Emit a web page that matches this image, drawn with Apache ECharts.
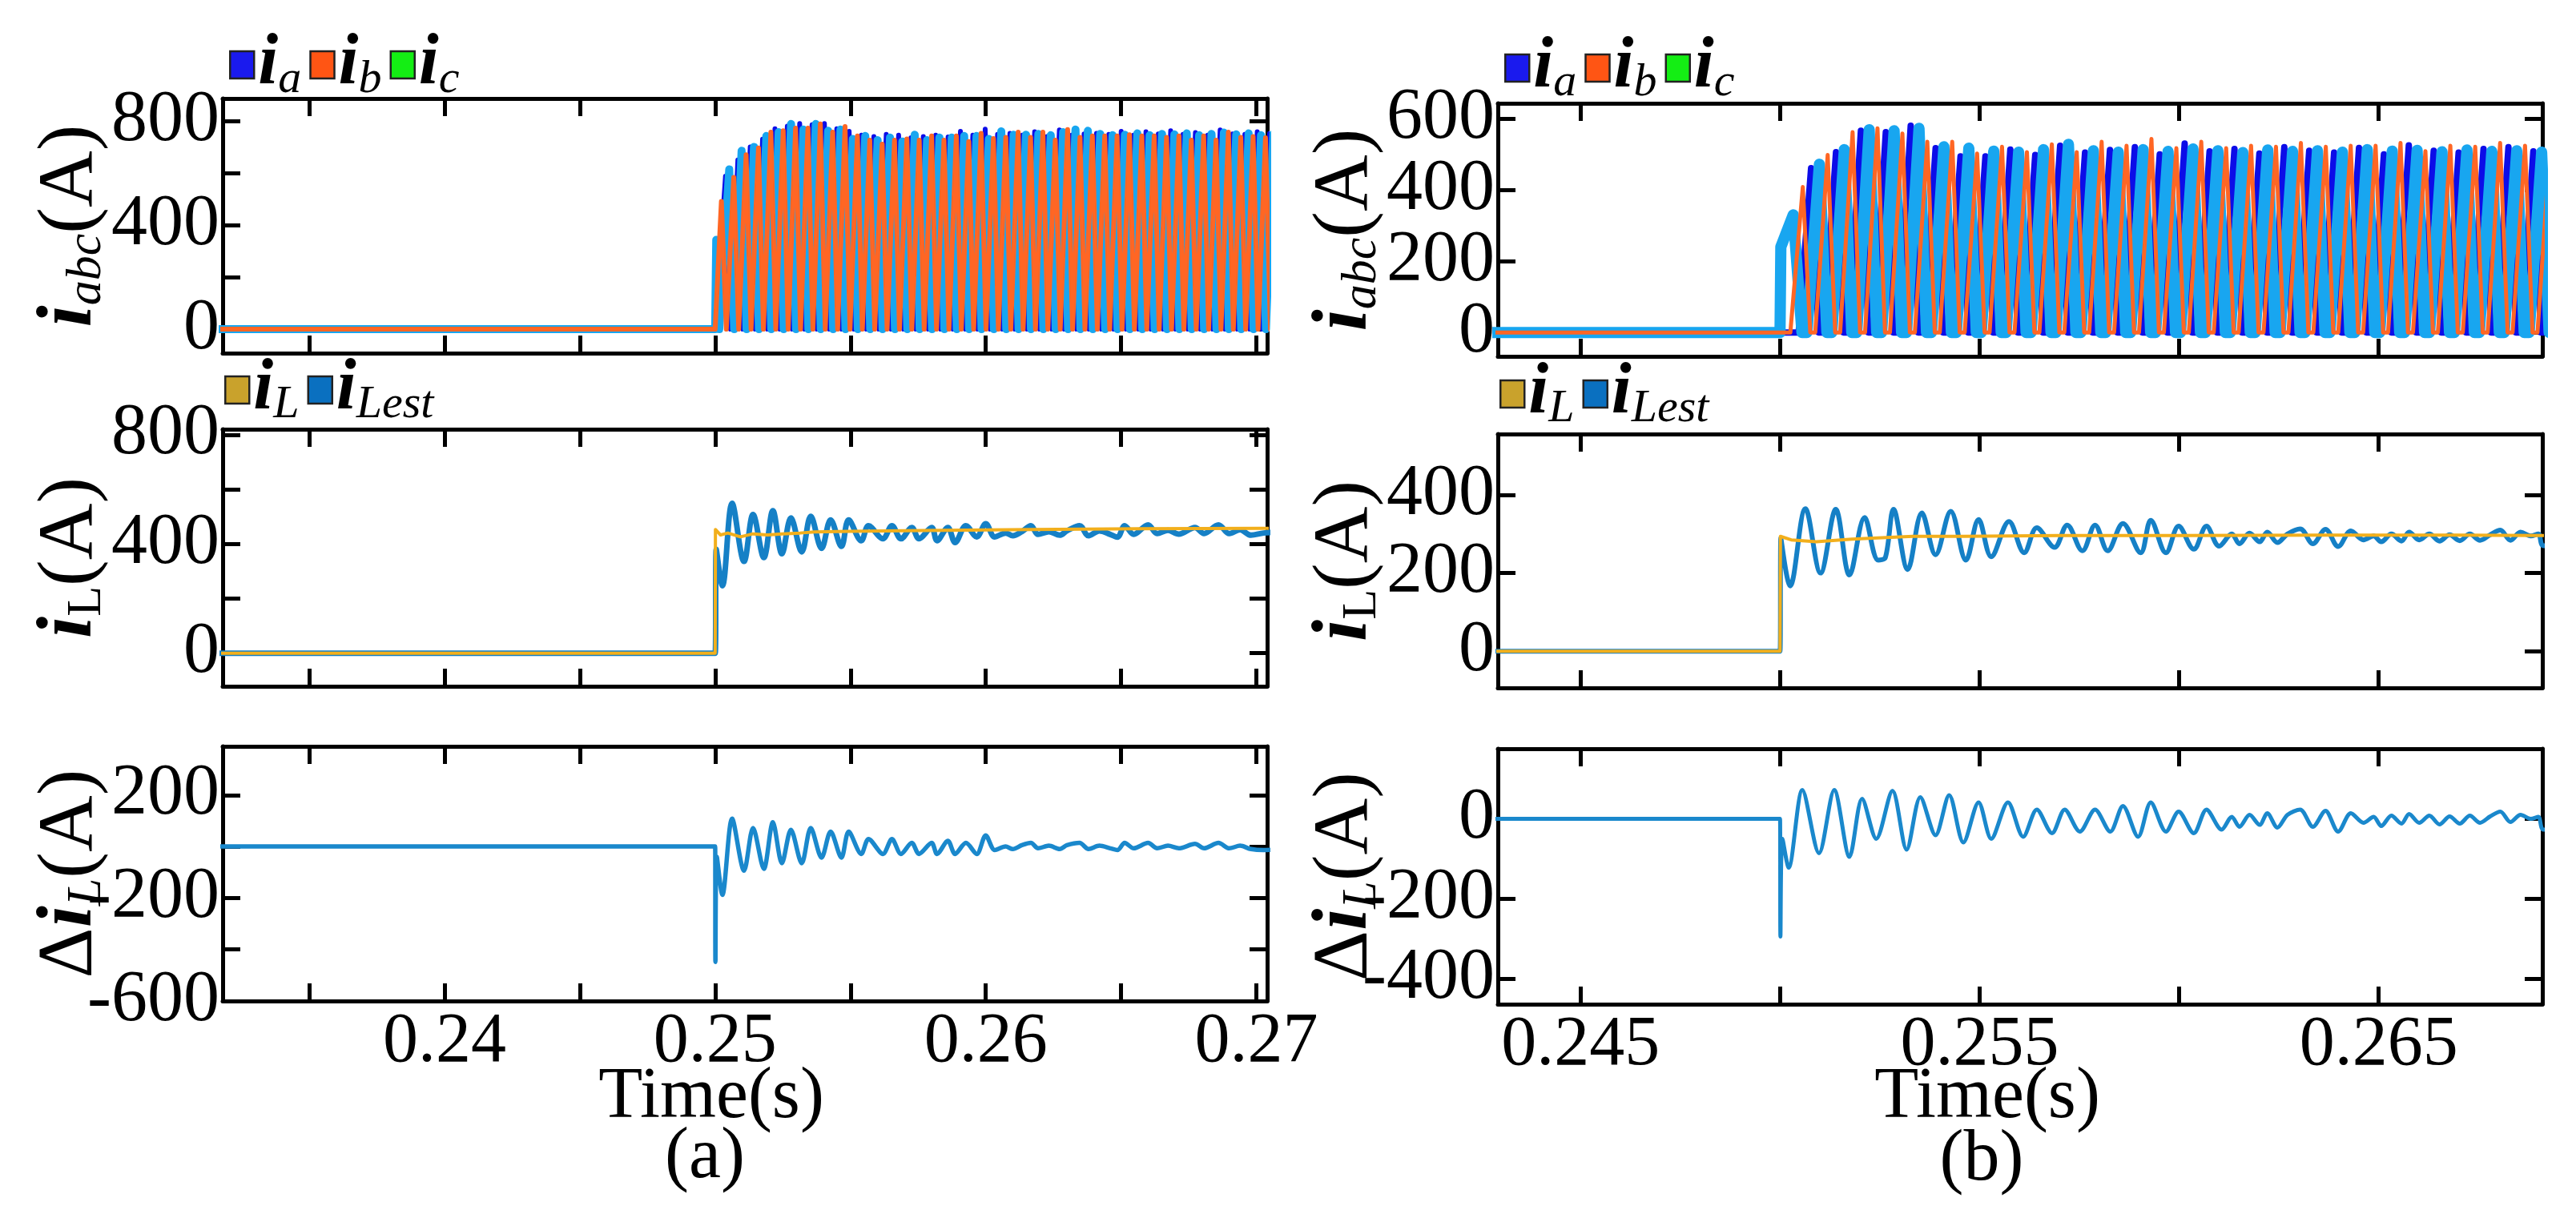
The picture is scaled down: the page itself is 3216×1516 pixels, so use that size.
<!DOCTYPE html>
<html><head><meta charset="utf-8">
<script src="https://cdn.jsdelivr.net/npm/echarts@6/dist/echarts.min.js"></script>
<style>html,body{margin:0;padding:0;background:#fff}#c{width:3216px;height:1516px}</style>
</head><body><div id="c"></div>
<script>
// ---------- DATA (times in microseconds after the 0.25 s load step, currents in A) ----------
// Panel (a) – three-phase currents: peak instants, peak values, zero-touch instants
const aIbPeakT = [230,687,1144,1601,2058,2515,2972,3429,3886,4343,4800,5257,5714,6171,6628,7085,7542,7999,8456,8913,9370,9827,10284,10741,11198,11655,12112,12569,13026,13483,13940,14397,14854,15311,15768,16225,16682,17139,17596,18053,18510,18967,19424,19881,20338];
const aIbPeakV = [491,583,670,696,757,762,772,772,788,757,778,742,726,711,726,731,726,742,726,742,721,752,732,737,757,737,757,726,767,737,742,742,742,747,742,742,737,742,726,742,726,757,737,740,735];
const aIbZeroT = [-20000,0,413,870,1327,1784,2241,2698,3155,3612,4069,4526,4983,5440,5897,6354,6811,7268,7725,8182,8639,9096,9553,10010,10467,10924,11381,11838,12295,12752,13209,13666,14123,14580,15037,15494,15951,16408,16865,17322,17779,18236,18693,19150,19607,20064,20521];

const aIaPeakT = [382,839,1296,1753,2210,2667,3124,3581,4038,4495,4952,5409,5866,6323,6780,7237,7694,8151,8608,9065,9522,9979,10436,10893,11350,11807,12264,12721,13178,13635,14092,14549,15006,15463,15920,16377,16834,17291,17748,18205,18662,19119,19576,20033,20490];
const aIaPeakV = [588,650,700,730,770,780,790,785,790,770,760,745,740,748,745,735,740,745,738,760,745,768,748,752,745,758,740,765,745,750,752,748,760,745,758,750,762,748,755,745,765,750,748,758,752];
const aIaZeroT = [-20000,0,565,1022,1479,1936,2393,2850,3307,3764,4221,4678,5135,5592,6049,6506,6963,7420,7877,8334,8791,9248,9705,10162,10619,11076,11533,11990,12447,12904,13361,13818,14275,14732,15189,15646,16103,16560,17017,17474,17931,18388,18845,19302,19759,20216,20673];

const aIcPeakT = [40,520,977,1434,1891,2348,2805,3262,3719,4176,4633,5090,5547,6004,6461,6918,7375,7832,8289,8746,9203,9660,10117,10574,11031,11488,11945,12402,12859,13316,13773,14230,14687,15144,15601,16058,16515,16972,17429,17886,18343,18800,19257,19714,20171,20628];
const aIcPeakV = [343,614,685,700,742,757,788,767,788,762,767,731,742,726,736,721,747,726,736,736,742,742,731,760,747,747,750,745,757,767,762,750,745,747,752,745,750,748,752,745,750,755,748,752,745,750];
const aIcZeroT = [-20000,0,150,703,1160,1617,2074,2531,2988,3445,3902,4359,4816,5273,5730,6187,6644,7101,7558,8015,8472,8929,9386,9843,10300,10757,11214,11671,12128,12585,13042,13499,13956,14413,14870,15327,15784,16241,16698,17155,17612,18069,18526,18983,19440,19897,20354,20811];

// Panel (a) – measured and estimated inductor current, and their difference
const aIlT = [-20000,0,10,200,467,933,1400,1933,2467,3133,3667,5000,7667,11667,15667,20267,21000];
const aIlV = [0,0,453,433,440,426,437,433,437,440,444,446,449,453,456,457,457];
const aIestT = [-20000,0,40,267,627,1067,1400,1800,2133,2467,2800,3200,3533,3933,4267,4667,4933,5400,5667,6200,6533,6867,7267,7533,8000,8200,8600,8867,9267,9667,10000,10333,10733,11000,11333,11667,11933,12333,12733,13000,13467,13800,14200,14600,14867,15133,15467,16000,16333,16733,17133,17733,18067,18600,19000,19400,19800,20267,21000];
const aIestV = [0,0,380,247,549,336,508,350,522,364,495,371,501,384,488,391,488,412,467,419,467,419,460,419,460,412,460,405,467,426,474,426,440,430,445,467,435,445,432,448,467,430,448,435,425,467,435,470,438,450,436,460,438,470,438,452,432,440,445];
const aDT = [-20000,0,10,60,267,627,1067,1400,1800,2133,2467,2800,3200,3533,3933,4267,4667,4933,5400,5667,6200,6533,6867,7267,7533,8000,8200,8600,8867,9267,9667,10000,10333,10733,11000,11333,11667,11933,12333,12733,13000,13467,13800,14200,14600,14867,15133,15467,16000,16333,16733,17133,17733,18067,18600,19000,19400,19800,20267,21000];
const aDV = [0,0,-448,-40,-188,108,-94,72,-87,94,-65,65,-65,72,-43,58,-43,58,-29,29,-29,29,-29,14,-29,14,-29,22,-29,14,-29,43,-14,0,-10,5,14,-7,3,-10,5,14,-10,3,-7,-14,14,-7,14,-7,3,-7,10,-7,14,-7,3,-10,-14,-10];

// Panel (b) – three-phase currents
const bIbPeakT = [570,1194,1818,2442,3066,3690,4314,4938,5562,6186,6810,7434,8058,8682,9306,9930,10554,11178,11802,12426,13050,13674,14298,14922,15546,16170,16794,17418,18042,18666,19290];
const bIbPeakV = [408,498,562,573,558,535,535,502,521,506,528,506,535,524,543,517,535,517,524,521,532,521,524,524,532,509,524,521,532,524,520];
const bIbZeroT = [-8000,258,757,882,1381,1506,2005,2130,2629,2754,3253,3378,3877,4002,4501,4626,5125,5250,5749,5874,6373,6498,6997,7122,7621,7746,8245,8370,8869,8994,9493,9618,10117,10242,10741,10866,11365,11490,11989,12114,12613,12738,13237,13362,13861,13986,14485,14610,15109,15234,15733,15858,16357,16482,16981,17106,17605,17730,18229,18354,18853,18978,19477];

const bIaPeakT = [778,1402,2026,2650,3274,3898,4522,5146,5770,6394,7018,7642,8266,8890,9514,10138,10762,11386,12010,12634,13258,13882,14506,15130,15754,16378,17002,17626,18250,18874,19498];
const bIaPeakV = [461,506,566,562,580,517,494,494,513,498,524,505,512,520,500,530,508,515,502,520,510,505,518,500,525,510,505,515,520,508,512];
const bIaZeroT = [-8000,466,965,1090,1589,1714,2213,2338,2837,2962,3461,3586,4085,4210,4709,4834,5333,5458,5957,6082,6581,6706,7205,7330,7829,7954,8453,8578,9077,9202,9701,9826,10325,10450,10949,11074,11573,11698,12197,12322,12821,12946,13445,13570,14069,14194,14693,14818,15317,15442,15941,16066,16565,16690,17189,17314,17813,17938,18437,18562,19061,19186,19685];

const bIcPeakT = [20,330,986,1610,2234,2858,3482,4106,4730,5354,5978,6602,7226,7850,8474,9098,9722,10346,10970,11594,12218,12842,13466,14090,14714,15338,15962,16586,17210,17834,18458,19082];
const bIcPeakV = [240,330,472,513,569,566,573,521,517,509,506,513,528,510,506,513,508,515,510,505,512,508,510,506,513,509,511,507,512,508,510,506];
const bIcZeroT = [-8000,0,549,674,1173,1298,1797,1922,2421,2546,3045,3170,3669,3794,4293,4418,4917,5042,5541,5666,6165,6290,6789,6914,7413,7538,8037,8162,8661,8786,9285,9410,9909,10034,10533,10658,11157,11282,11781,11906,12405,12530,13029,13154,13653,13778,14277,14402,14901,15026,15525,15650,16149,16274,16773,16898,17397,17522,18021,18146,18645,18770,19269];

// Panel (b) – inductor currents and difference
const bIlT = [-8000,0,10,280,910,1800,2440,3330,4600,7000,10000,13500,17000,19300,20000];
const bIlV = [0,0,294,285,280,287,290,294,294,296,296,297,297,296,296];
const bIestT = [-8000,0,20,254,635,1015,1396,1739,2119,2462,2640,2843,3198,3553,3896,4277,4657,4975,5292,5736,6117,6434,6878,7195,7576,7893,8210,8591,9035,9289,9670,9987,10367,10685,11002,11319,11510,11764,12017,12208,12462,12715,13032,13350,13667,13984,14302,14619,14873,15063,15317,15571,15762,16015,16269,16523,16777,17031,17284,17538,17792,18046,18300,18554,18808,19000,19125,20000];
const bIestV = [0,0,290,167,365,200,363,195,342,233,240,363,209,354,247,358,233,337,242,332,252,316,266,323,257,323,257,327,252,335,252,320,261,320,269,300,275,302,280,305,278,300,313,275,312,268,308,285,295,280,300,282,305,285,300,282,298,283,300,284,298,310,284,305,295,300,270,280];
const bDT = [-8000,0,10,60,216,559,977,1358,1739,2056,2411,2817,3172,3515,3896,4238,4594,4975,5292,5711,6092,6434,6815,7132,7512,7893,8274,8591,8971,9289,9670,9987,10367,10685,11065,11319,11510,11764,12017,12208,12462,12715,13032,13350,13667,13984,14302,14619,14873,15063,15317,15571,15762,16015,16269,16523,16777,17031,17284,17538,17792,18046,18300,18554,18808,19000,19125,20000];
const bDV = [0,0,-294,-50,-122,72,-86,72,-95,50,-50,70,-77,54,-41,59,-59,41,-50,41,-45,23,-36,23,-32,23,-32,32,-45,41,-32,18,-36,23,-27,5,-20,10,-15,14,-22,10,23,-20,20,-32,14,-10,5,-18,8,-12,12,-10,8,-14,6,-12,8,-10,6,18,-8,10,0,5,-27,-10];

// Axis ranges and tick labels
const xRangeA = [0.2318, 0.2704];
const xRangeB = [0.24293, 0.2691];
const yRanges = [[-92, 886], [-121, 820], [-600, 389], [-67, 643], [-94, 556], [-463, 175]];
const yLabelSets = [[0, 400, 800], [0, 400, 800], [-600, -200, 200], [0, 200, 400, 600], [0, 200, 400], [-400, -200, 0]];
const xLabelsA = ['0.24', '0.25', '0.26', '0.27'];
const xLabelsB = ['0.245', '0.255', '0.265'];

// ---------- BUILD ----------
const STEP = 0.25;
const toS = us => STEP + us * 1e-6;
function wave(zeroT, peakT, peakV) {
  const n = Math.min(peakT.length, peakV.length);
  const pts = zeroT.map(t => [t, 0]);
  for (let i = 0; i < n; i++) pts.push([peakT[i], peakV[i]]);
  pts.sort((p, q) => p[0] - q[0]);
  return pts.map(p => [toS(p[0]), p[1]]);
}
function trace(T, V) {
  const n = Math.min(T.length, V.length);
  const out = [];
  for (let i = 0; i < n; i++) out.push([toS(T[i]), V[i]]);
  return out;
}

const FONT = 'Liberation Serif';
const grids = [
  {left: 278, top: 123, width: 1304, height: 318},
  {left: 278, top: 536, width: 1304, height: 321},
  {left: 278, top: 932, width: 1304, height: 318},
  {left: 1870, top: 129, width: 1304, height: 316},
  {left: 1870, top: 542, width: 1304, height: 317},
  {left: 1870, top: 935, width: 1304, height: 319}
];

const lineCommon = {show: true, onZero: false, lineStyle: {color: '#000', width: 5}};
const tickCommon = {show: true, inside: true, length: 22, lineStyle: {color: '#000', width: 5}};

function fmtX(list, digits) {
  return v => {
    const s = v.toFixed(digits);
    return (list.indexOf(s) >= 0 && Math.abs(v - parseFloat(s)) < 1e-7) ? s : '';
  };
}
function fmtY(list) {
  return v => (list.indexOf(Math.round(v)) >= 0 && Math.abs(v - Math.round(v)) < 1e-6) ? String(Math.round(v)) : '';
}

const nameRich = {
  i: {fontFamily: FONT, fontStyle: 'italic', fontWeight: 'bold', fontSize: 98, lineHeight: 104, color: '#000'},
  s: {fontFamily: FONT, fontStyle: 'italic', fontSize: 62, lineHeight: 48, verticalAlign: 'bottom', color: '#000'},
  r: {fontFamily: FONT, fontSize: 62, lineHeight: 48, verticalAlign: 'bottom', color: '#000'},
  n: {fontFamily: FONT, fontSize: 98, lineHeight: 104, color: '#000'}
};
const yNames = ['{i|i}{s|abc}{n|(A)}', '{i|i}{r|L}{n|(A)}', '{n|Δ}{i|i}{s|L}{n|(A)}'];

const xAxis = [], yAxis = [];
grids.forEach((g, gi) => {
  const isA = gi < 3;
  const xr = isA ? xRangeA : xRangeB;
  const bottomPanel = gi === 2 || gi === 5;
  const xBase = {type: 'value', gridIndex: gi, min: xr[0], max: xr[1], minInterval: 0.005, maxInterval: 0.005,
    splitLine: {show: false}, axisLine: lineCommon, axisTick: tickCommon};
  xAxis.push(Object.assign({}, xBase, {position: 'bottom',
    axisLabel: {show: bottomPanel, formatter: isA ? fmtX(xLabelsA, 2) : fmtX(xLabelsB, 3),
      fontFamily: FONT, fontSize: 88, color: '#000', margin: 8}}));
  xAxis.push(Object.assign({}, xBase, {position: 'top', axisLabel: {show: false}}));
  const yr = yRanges[gi];
  const yBase = {type: 'value', gridIndex: gi, min: yr[0], max: yr[1], minInterval: 200, maxInterval: 200,
    splitLine: {show: false}, axisLine: lineCommon, axisTick: tickCommon};
  yAxis.push(Object.assign({}, yBase, {position: 'left',
    axisLabel: {show: true, formatter: fmtY(yLabelSets[gi]), fontFamily: FONT, fontSize: 90, color: '#000', margin: 4},
    name: yNames[gi % 3], nameLocation: 'middle', nameRotate: 90, nameGap: 138, nameMoveOverlap: false,
    nameTextStyle: {rich: nameRich, fontFamily: FONT, color: '#000'}}));
  yAxis.push(Object.assign({}, yBase, {position: 'right', axisLabel: {show: false}}));
});

const C = {
  ia: '#0c0ce8', ib: '#ff6624', ic: '#18a6f0',
  iaLeg: '#1a1aee', ibLeg: '#ff5514', icLeg: '#14ee14',
  il: '#f2af1c', ilLeg: '#c9a22c', iest: '#1580c6', iestLeg: '#0a70c0', d: '#1a88cc'
};

function line(name, gi, data, color, width, smooth) {
  return {name, type: 'line', xAxisIndex: 2 * gi, yAxisIndex: 2 * gi, data, showSymbol: false, symbol: 'none',
    silent: true, animation: false, clip: true, smooth: smooth || false, itemStyle: {color},
    lineStyle: {color, width, join: 'round', cap: 'round'}};
}

const series = [
  line('a_ia', 0, wave(aIaZeroT, aIaPeakT, aIaPeakV), C.ia, 6),
  line('a_ic', 0, wave(aIcZeroT, aIcPeakT, aIcPeakV), C.ic, 10),
  line('a_ib', 0, wave(aIbZeroT, aIbPeakT, aIbPeakV), C.ib, 6),
  line('a_iest', 1, trace(aIestT, aIestV), C.iest, 7, 0.35),
  line('a_il', 1, trace(aIlT, aIlV), C.il, 4),
  line('a_d', 2, trace(aDT, aDV), C.d, 5.5, 0.3),
  line('b_ia', 3, wave(bIaZeroT, bIaPeakT, bIaPeakV), C.ia, 8),
  line('b_ic', 3, wave(bIcZeroT, bIcPeakT, bIcPeakV), C.ic, 14),
  line('b_ib', 3, wave(bIbZeroT, bIbPeakT, bIbPeakV), C.ib, 5),
  line('b_iest', 4, trace(bIestT, bIestV), C.iest, 6, 0.35),
  line('b_il', 4, trace(bIlT, bIlV), C.il, 4),
  line('b_d', 5, trace(bDT, bDV), C.d, 5, 0.3)
];

const legendText = {
  a_ia: '{i|i}{s|a}', a_ib: '{i|i}{s|b}', a_ic: '{i|i}{s|c}', a_il: '{i|i}{s|L}', a_iest: '{i|i}{s|Lest}',
  b_ia: '{i|i}{s|a}', b_ib: '{i|i}{s|b}', b_ic: '{i|i}{s|c}', b_il: '{i|i}{s|L}', b_iest: '{i|i}{s|Lest}'
};
const legendRich = {
  i: {fontFamily: FONT, fontStyle: 'italic', fontWeight: 'bold', fontSize: 90, lineHeight: 96, color: '#000'},
  s: {fontFamily: FONT, fontStyle: 'italic', fontSize: 58, lineHeight: 46, verticalAlign: 'bottom', color: '#000'}
};
function legend(left, top, items) {
  return {left, top, padding: 0, icon: 'rect', itemWidth: 30, itemHeight: 34, itemGap: 10, selectedMode: false,
    itemStyle: {borderColor: '#222', borderWidth: 2.5},
    formatter: n => legendText[n], textStyle: {rich: legendRich},
    data: items.map(it => ({name: it[0], itemStyle: {color: it[1]}}))};
}

const option = {
  backgroundColor: '#fff',
  animation: false,
  grid: grids,
  xAxis, yAxis, series,
  legend: [
    legend(286, 36, [['a_ia', C.iaLeg], ['a_ib', C.ibLeg], ['a_ic', C.icLeg]]),
    legend(280, 442, [['a_il', C.ilLeg], ['a_iest', C.iestLeg]]),
    legend(1878, 40, [['b_ia', C.iaLeg], ['b_ib', C.ibLeg], ['b_ic', C.icLeg]]),
    legend(1872, 447, [['b_il', C.ilLeg], ['b_iest', C.iestLeg]])
  ],
  graphic: [
    {type: 'text', x: 888, y: 1371, style: {text: 'Time(s)', font: '90px "Liberation Serif"', fill: '#000', textAlign: 'center', textVerticalAlign: 'middle', align: 'center', verticalAlign: 'middle'}},
    {type: 'text', x: 880, y: 1446, style: {text: '(a)', font: '90px "Liberation Serif"', fill: '#000', textAlign: 'center', textVerticalAlign: 'middle', align: 'center', verticalAlign: 'middle'}},
    {type: 'text', x: 2481, y: 1371, style: {text: 'Time(s)', font: '90px "Liberation Serif"', fill: '#000', textAlign: 'center', textVerticalAlign: 'middle', align: 'center', verticalAlign: 'middle'}},
    {type: 'text', x: 2474, y: 1449, style: {text: '(b)', font: '90px "Liberation Serif"', fill: '#000', textAlign: 'center', textVerticalAlign: 'middle', align: 'center', verticalAlign: 'middle'}}
  ]
};

const chart = echarts.init(document.getElementById('c'), null, {renderer: 'canvas'});
chart.setOption(option);
</script>
</body></html>
